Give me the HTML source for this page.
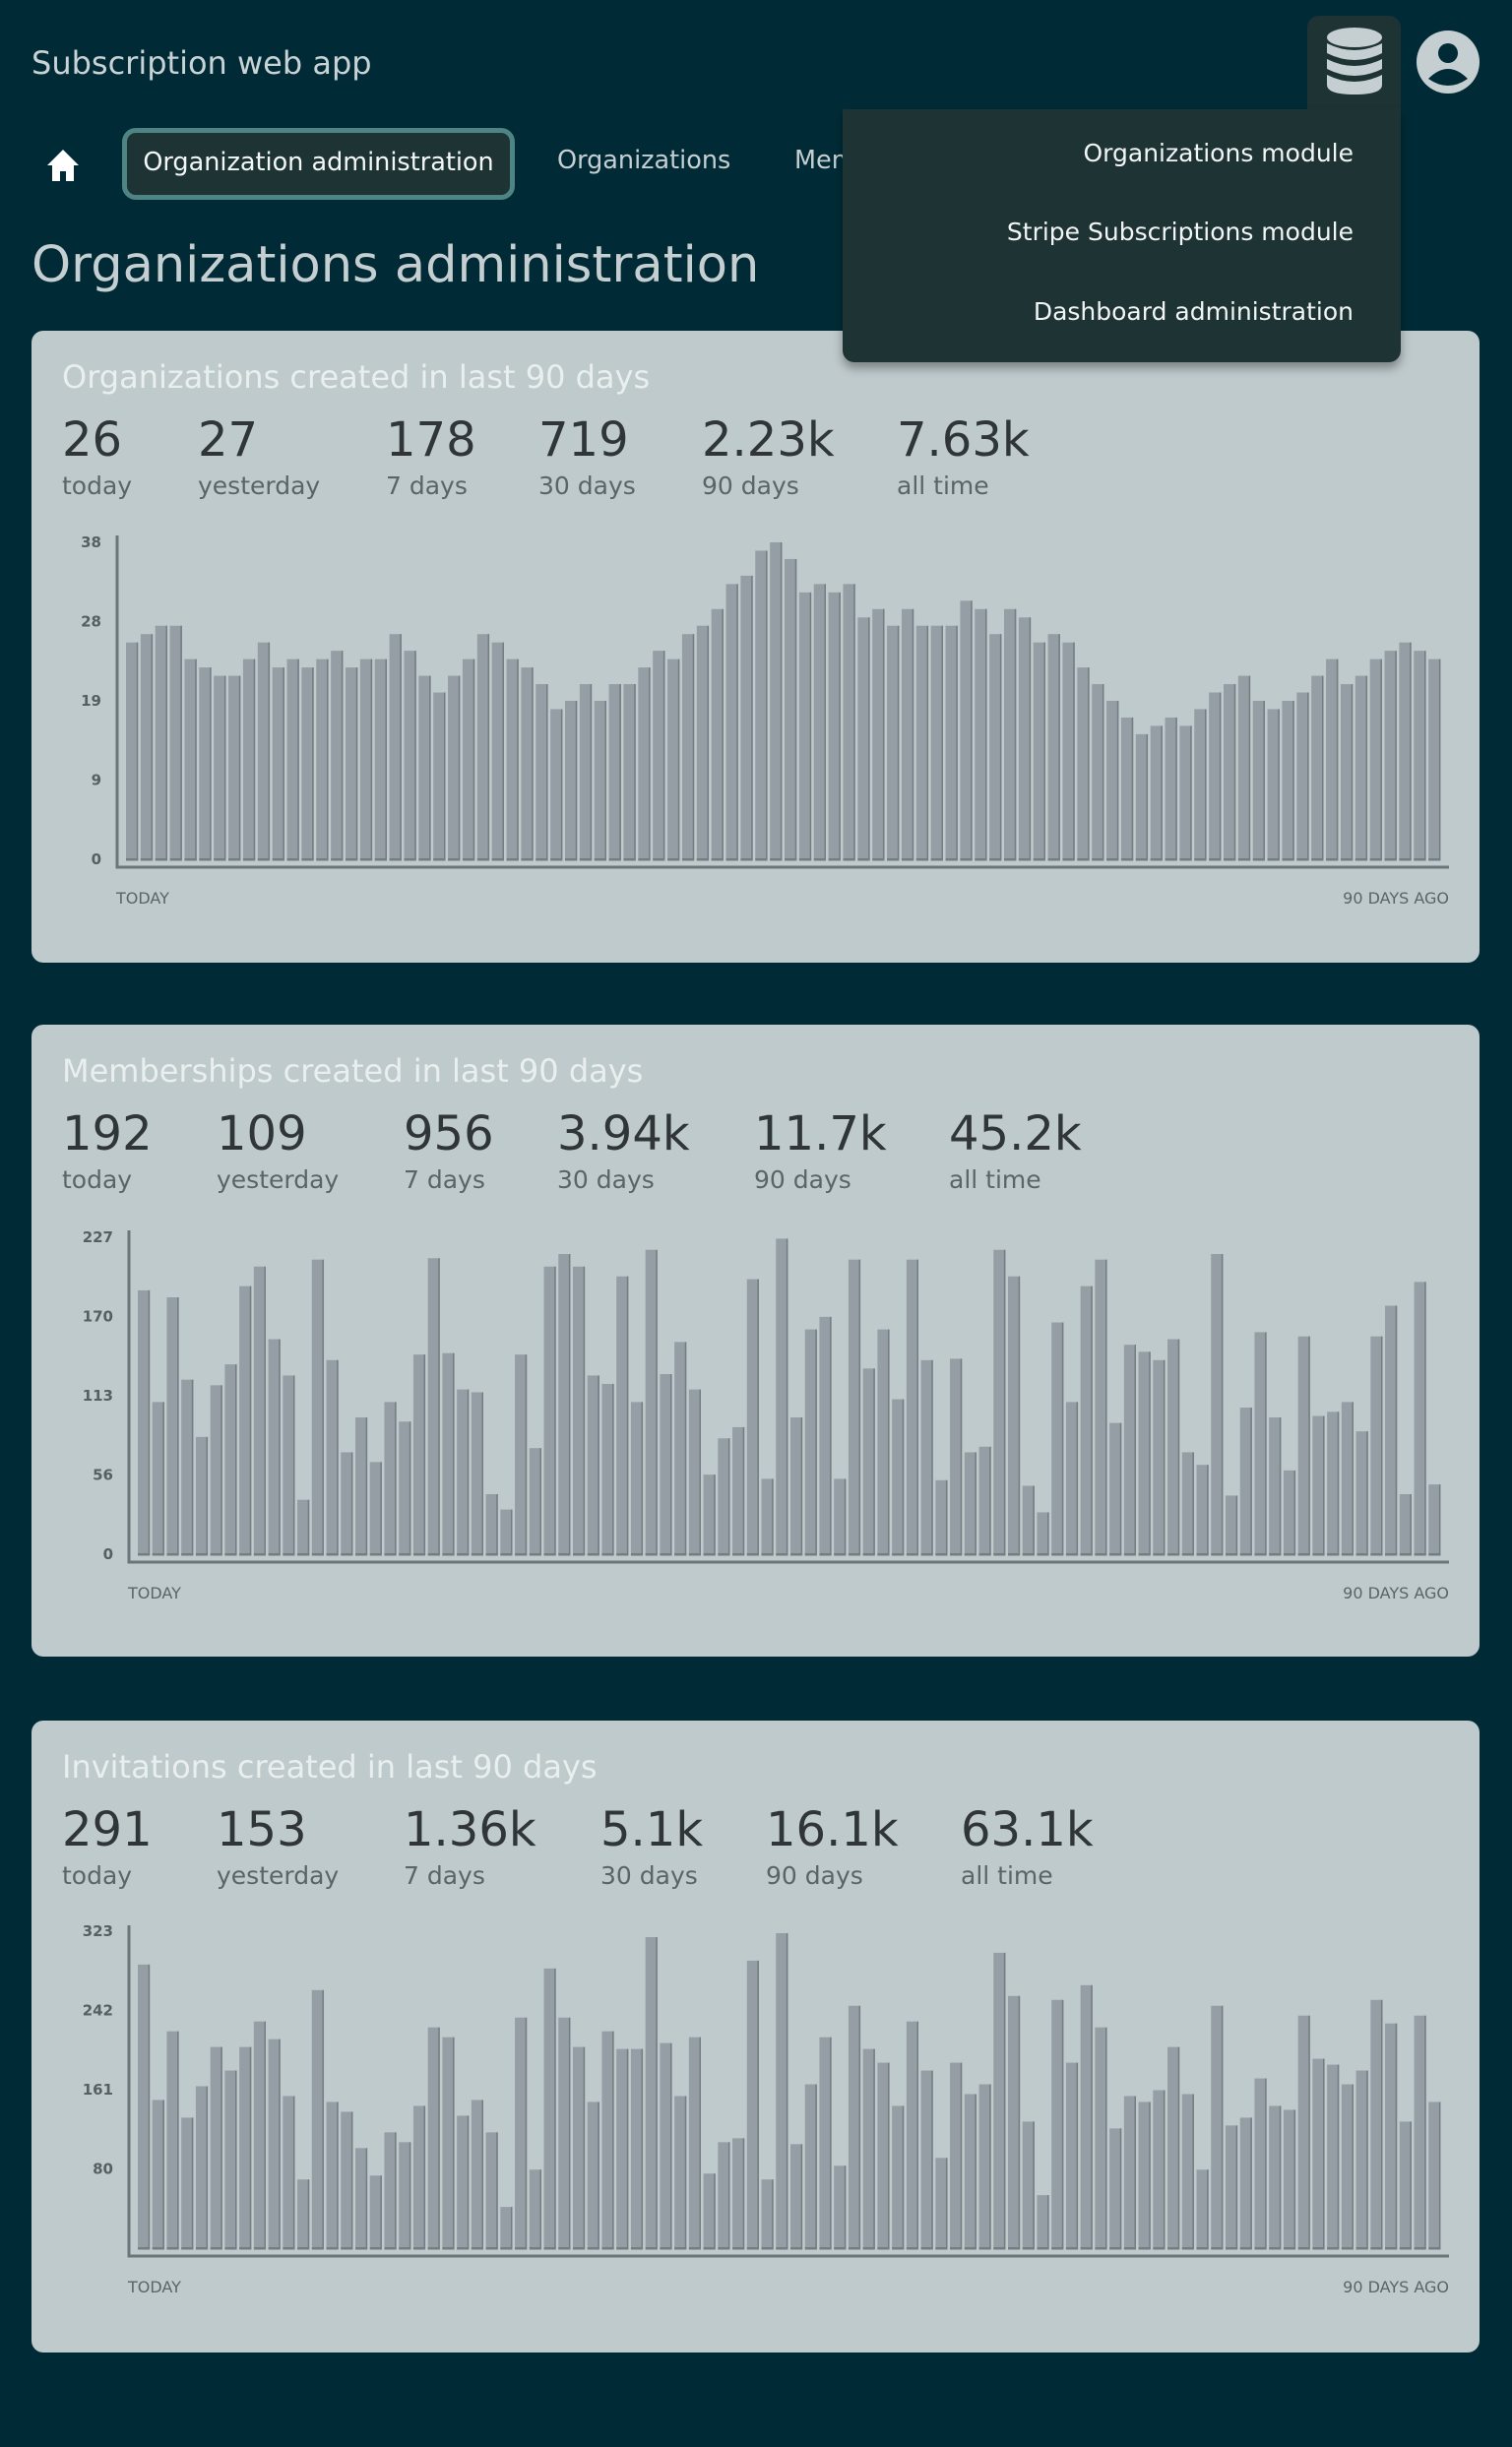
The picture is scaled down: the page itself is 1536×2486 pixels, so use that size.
<!DOCTYPE html>
<html><head><meta charset="utf-8"><style>
*{margin:0;padding:0;box-sizing:border-box}
body{width:1536px;height:2486px;background:#002b36;font-family:"DejaVu Sans","Liberation Sans",sans-serif;position:relative;overflow:hidden}
.abs{position:absolute;white-space:nowrap}
.card{position:absolute;left:32px;width:1471px;height:642px;background:#bfcacc;border-radius:12px}
.ctitle{position:absolute;left:31px;top:28px;font-size:32px;color:#e9efef}
.num{position:absolute;top:83px;font-size:48px;color:#303538}
.lab{position:absolute;top:143px;font-size:25px;color:#5b6569}
svg{position:absolute;left:0;top:0}
.dd{position:absolute;left:856px;top:111px;width:567px;height:257px;background:#1e3334;border-radius:0 0 12px 12px;box-shadow:0 6px 10px rgba(0,0,0,.35)}
.ddi{position:absolute;right:48px;font-size:25px;color:#f2f5f5}
</style></head><body>
<div class="abs" style="left:32px;top:45px;font-size:32px;color:#c9d3d5">Subscription web app</div>
<div class="abs" style="left:1328px;top:16px;width:95px;height:100px;background:#1e3334;border-radius:12px 12px 0 0">
<svg width="95" height="100" viewBox="0 0 95 100"><g fill="#c5cfd1"><ellipse cx="48" cy="22" rx="28" ry="10"/><path d="M20 28 q28 14 56 0 v10 q-28 14 -56 0z"/><path d="M20 44 q28 14 56 0 v10 q-28 14 -56 0z"/><path d="M20 60 q28 14 56 0 v10 q0 10 -28 10 q-28 0 -28 -10z"/></g></svg></div>
<svg width="70" height="70" viewBox="0 0 70 70" style="left:1438px;top:30px"><circle cx="33" cy="33" r="32" fill="#c5cfd1"/><circle cx="33" cy="24" r="10" fill="#002b36"/><path d="M13 50 q20 -20 40 0 q-20 14 -40 0z" fill="#002b36"/></svg>
<svg width="40" height="40" viewBox="0 0 40 40" style="left:44px;top:148px"><path d="M20 4 L36 20 H31 V36 H23 V26 H17 V36 H9 V20 H4Z" fill="#fff"/></svg>
<div class="abs" style="left:124px;top:130px;width:399px;height:73px;border:5px solid #4e8483;border-radius:14px;background:#1e3334;color:#f4f7f7;font-size:25.5px;line-height:60px;text-align:center">Organization administration</div>
<div class="abs" style="left:566px;top:148px;font-size:25.5px;color:#c5cfd1">Organizations</div>
<div class="abs" style="left:807px;top:148px;font-size:25.5px;color:#c5cfd1">Memberships</div>
<div class="abs" style="left:32px;top:240px;font-size:51px;color:#c5cfd1">Organizations administration</div>

<div class="card" style="top:336px">
<div class="ctitle">Organizations created in last 90 days</div>
<div class="num" style="left:31px">26</div><div class="lab" style="left:31px">today</div>
<div class="num" style="left:169px">27</div><div class="lab" style="left:169px">yesterday</div>
<div class="num" style="left:360px">178</div><div class="lab" style="left:360px">7 days</div>
<div class="num" style="left:515px">719</div><div class="lab" style="left:515px">30 days</div>
<div class="num" style="left:681px">2.23k</div><div class="lab" style="left:681px">90 days</div>
<div class="num" style="left:879px">7.63k</div><div class="lab" style="left:879px">all time</div>
</div>
<div class="card" style="top:1041px">
<div class="ctitle">Memberships created in last 90 days</div>
<div class="num" style="left:31px">192</div><div class="lab" style="left:31px">today</div>
<div class="num" style="left:188px">109</div><div class="lab" style="left:188px">yesterday</div>
<div class="num" style="left:378px">956</div><div class="lab" style="left:378px">7 days</div>
<div class="num" style="left:534px">3.94k</div><div class="lab" style="left:534px">30 days</div>
<div class="num" style="left:734px">11.7k</div><div class="lab" style="left:734px">90 days</div>
<div class="num" style="left:932px">45.2k</div><div class="lab" style="left:932px">all time</div>
</div>
<div class="card" style="top:1748px">
<div class="ctitle">Invitations created in last 90 days</div>
<div class="num" style="left:31px">291</div><div class="lab" style="left:31px">today</div>
<div class="num" style="left:188px">153</div><div class="lab" style="left:188px">yesterday</div>
<div class="num" style="left:378px">1.36k</div><div class="lab" style="left:378px">7 days</div>
<div class="num" style="left:578px">5.1k</div><div class="lab" style="left:578px">30 days</div>
<div class="num" style="left:746px">16.1k</div><div class="lab" style="left:746px">90 days</div>
<div class="num" style="left:944px">63.1k</div><div class="lab" style="left:944px">all time</div>
</div>

<div class="dd">
<div class="ddi" style="top:30px">Organizations module</div>
<div class="ddi" style="top:110px">Stripe Subscriptions module</div>
<div class="ddi" style="top:191px">Dashboard administration</div>
</div>

<svg id="charts" width="1536" height="2486" style="pointer-events:none"></svg>
<script>
const orgValues=[26,27,28,28,24,23,22,22,24,26,23,24,23,24,25,23,24,24,27,25,22,20,22,24,27,26,24,23,21,18,19,21,19,21,21,23,25,24,27,28,30,33,34,37,38,36,32,33,32,33,29,30,28,30,28,28,28,31,30,27,30,29,26,27,26,23,21,19,17,15,16,17,16,18,20,21,22,19,18,19,20,22,24,21,22,24,25,26,25,24];
const orgTicks=[0,9.5,19,28.5,38];
const memValues=[189,109,184,125,84,121,136,192,206,154,128,39,211,139,73,98,66,109,95,143,212,144,118,116,43,32,143,76,206,215,206,128,122,199,109,218,129,152,118,57,83,91,197,54,226,98,161,170,54,211,133,161,111,211,139,53,140,73,77,218,199,49,30,166,109,192,211,94,150,145,139,154,73,64,215,42,105,159,98,60,156,99,102,109,88,156,178,43,195,50];
const memTicks=[0,56.75,113.5,170.25,227];
const invValues=[289,151,221,133,165,205,181,205,231,213,155,70,263,149,139,102,74,118,108,145,225,215,135,151,118,42,235,80,285,235,205,149,221,203,203,317,209,155,215,76,108,112,293,70,321,106,167,215,84,247,203,189,145,231,181,92,189,157,167,301,257,129,54,253,189,268,225,122,155,149,161,205,157,80,247,125,133,173,145,141,237,193,187,167,181,253,229,129,237,149];
const invTicks=[80.75,161.5,242.25,323];
const NS='http://www.w3.org/2000/svg';
const svg=document.getElementById('charts');
function mk(tag,attrs){const e=document.createElementNS(NS,tag);for(const k in attrs)e.setAttribute(k,attrs[k]);svg.appendChild(e);return e;}
function chart(values,ticks,max,axisX,x0,zeroY,topY,axisTop,key){
  const x1=1466, n=values.length, pitch=(x1-x0)/n, bw=pitch-2.6;
  const y=v=>zeroY-(v/max)*(zeroY-topY);
  const xs=i=>x0+i*pitch;
  let a=mk('line',{x1:axisX,y1:axisTop,x2:axisX,y2:zeroY+9,stroke:'#6b767b','stroke-width':3});
  
  
  a=mk('line',{x1:axisX-1.5,y1:zeroY+8,x2:1472,y2:zeroY+8,stroke:'#6b767b','stroke-width':3});
  
  
  ticks.forEach(t=>{const e=mk('text',{x:axisX-16,y:y(t)+5,'text-anchor':'end','font-size':15,'font-weight':'bold',fill:'#566064','font-family':'DejaVu Sans, sans-serif'});e.textContent=Math.floor(t);
    
    });
  values.forEach((v,i)=>{
    const r=mk('rect',{x:xs(i),y:y(v),width:bw,height:zeroY-y(v)+1,fill:'#949ea4'});
    
    
    const d=mk('rect',{x:xs(i)+bw-1.5,y:y(v),width:1.5,height:zeroY-y(v)+1,fill:'#737d82'});
    
    
    const b=mk('rect',{x:xs(i),y:zeroY-1,width:bw,height:2.5,fill:'#737d82'});
    
    
  });
  let t=mk('text',{x:axisX-1,y:zeroY+45,'font-size':16,fill:'#5b6569','font-family':'DejaVu Sans, sans-serif'});t.textContent='TODAY';
  
  
  t=mk('text',{x:1472,y:zeroY+45,'text-anchor':'end','font-size':16,fill:'#5b6569','font-family':'DejaVu Sans, sans-serif'});t.textContent='90 DAYS AGO';
  
  
}
chart(orgValues,orgTicks,38,119,128,873,551,544,'organizations');
chart(memValues,memTicks,227,131,140,1579,1257,1250,'memberships');
chart(invValues,invTicks,323,131,140,2284,1962,1956,'invitations');
</script>
</body></html>
